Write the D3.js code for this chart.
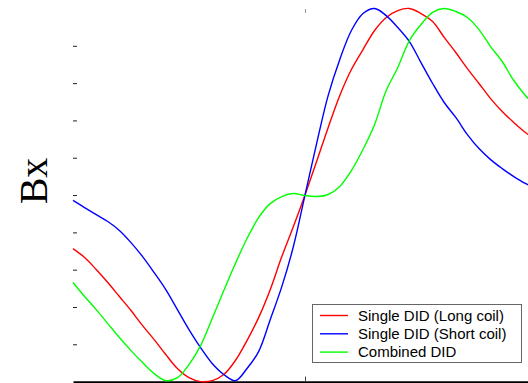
<!DOCTYPE html>
<html>
<head>
<meta charset="utf-8">
<script src="https://cdn.jsdelivr.net/npm/d3@7"></script>
<style>
  html, body { margin: 0; padding: 0; background: #fff; }
  svg { display: block; }
</style>
</head>
<body>
<svg id="chart" width="528" height="383"></svg>
<script>
// Position along the coil axis (relative units, -100 .. 100)
const positions = [-100,-95,-90,-85,-80,-75,-70,-65,-60,-55,-50,-45,-40,-35,-30,-25,-20,-15,-10,-5,
  0,5,10,15,20,25,30,35,40,45,50,55,60,65,70,75,80,85,90,95,100];

// Normalised Bx values
const longCoil = [-0.287,-0.335,-0.399,-0.469,-0.544,-0.619,-0.700,-0.775,-0.855,-0.930,-0.979,-1.000,-0.995,-0.962,-0.887,-0.780,-0.657,-0.507,-0.330,-0.169,
  0,0.180,0.362,0.534,0.673,0.780,0.882,0.952,0.989,1.000,0.973,0.930,0.845,0.764,0.678,0.598,0.517,0.448,0.389,0.335,0.292];

const shortCoil = [-0.029,-0.067,-0.105,-0.142,-0.190,-0.255,-0.330,-0.416,-0.507,-0.614,-0.721,-0.818,-0.903,-0.962,-0.995,-0.930,-0.839,-0.668,-0.491,-0.276,
  0,0.276,0.534,0.727,0.882,0.973,1.000,0.962,0.898,0.823,0.710,0.598,0.496,0.416,0.324,0.249,0.190,0.142,0.099,0.062,0.035];

const combined = [-0.469,-0.544,-0.614,-0.689,-0.764,-0.834,-0.898,-0.957,-0.995,-0.979,-0.909,-0.807,-0.662,-0.512,-0.367,-0.233,-0.121,-0.046,-0.008,0.008,
  -0.003,-0.008,0.003,0.046,0.131,0.244,0.378,0.560,0.684,0.828,0.914,0.979,1.000,0.984,0.952,0.887,0.796,0.716,0.614,0.534,0.469];

const seriesNames = ["Single DID (Long coil)", "Single DID (Short coil)", "Combined DID"];
const seriesColors = ["#ff0000", "#0000ff", "#00ff00"];
const yTicks = [-0.8,-0.6,-0.4,-0.2,0,0.2,0.4,0.6,0.8];
const xTicks = [0];
const yLabel = "Bx";

const svg = d3.select("#chart");
const x = d3.scaleLinear().domain([-100, 100]).range([73, 537]);
const y = d3.scaleLinear().domain([-1, 1]).range([381.6, 8.5]);

// Left ticks (inward, no domain line)
const gy = svg.append("g").attr("transform", "translate(73,0)")
  .call(d3.axisLeft(y).tickValues(yTicks).tickSizeInner(-4).tickSizeOuter(0).tickFormat(""));
gy.select(".domain").remove();
gy.selectAll(".tick line").attr("stroke", "#222").attr("stroke-width", 1);

// Top tick
const gt = svg.append("g").attr("transform", "translate(0,9)")
  .call(d3.axisTop(x).tickValues(xTicks).tickSizeInner(-4).tickSizeOuter(0).tickFormat(""));
gt.select(".domain").remove();
gt.selectAll(".tick line").attr("stroke", "#999");

// Bottom axis
const gb = svg.append("g").attr("transform", "translate(0,381.6)")
  .call(d3.axisBottom(x).tickValues(xTicks).tickSizeInner(-5).tickSizeOuter(0).tickFormat(""));
gb.select(".domain").attr("stroke", "#000").attr("stroke-width", 1.6);
gb.selectAll(".tick line").attr("stroke", "#444");

// Curves
const allSeries = [longCoil, shortCoil, combined];
const line = d3.line()
  .x((d, i) => x(positions[i]))
  .y(d => y(d))
  .curve(d3.curveCatmullRom.alpha(0.5));

allSeries.forEach((vals, k) => {
  svg.append("path")
    .datum(vals)
    .attr("fill", "none")
    .attr("stroke", seriesColors[k])
    .attr("stroke-width", 1.4)
    .attr("d", line);
});

// Y label
svg.append("text")
  .attr("transform", "translate(47,181) rotate(-90)")
  .attr("text-anchor", "middle")
  .attr("font-family", "'Liberation Serif', 'Times New Roman', serif")
  .attr("font-size", 40)
  .attr("fill", "#000")
  .text(yLabel);

// Legend
const lg = svg.append("g");
lg.append("rect")
  .attr("x", 312.5).attr("y", 304.5).attr("width", 209).attr("height", 58)
  .attr("fill", "#fff").attr("stroke", "#666").attr("stroke-width", 1);
seriesNames.forEach((name, k) => {
  const cy = 315.5 + k * 18.3;
  lg.append("line").attr("x1", 320).attr("x2", 348).attr("y1", cy).attr("y2", cy)
    .attr("stroke", seriesColors[k]).attr("stroke-width", 1.4);
  lg.append("text").attr("x", 358).attr("y", cy + 5.3)
    .attr("font-family", "'Liberation Sans', Arial, sans-serif")
    .attr("font-size", 15).attr("fill", "#000")
    .text(name);
});
</script>
</body>
</html>
